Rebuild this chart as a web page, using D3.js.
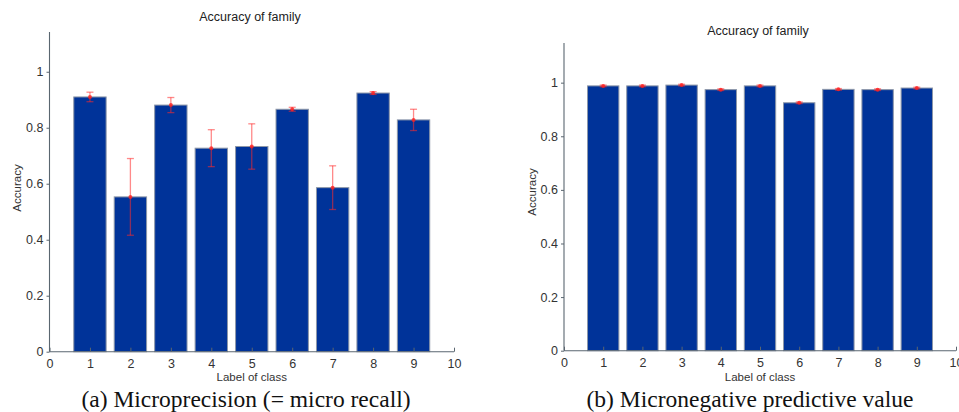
<!DOCTYPE html>
<html>
<head>
<meta charset="utf-8">
<script src="https://cdn.jsdelivr.net/npm/d3@7"></script>
<style>
  html, body { margin: 0; padding: 0; background: #fff; }
  svg { display: block; }
  .tick text { font-family: "Liberation Sans", Arial, sans-serif; fill: #333; }
</style>
</head>
<body>
<svg id="chart" width="959" height="412"></svg>
<script>
// Class labels shared by both panels
const classes = [1, 2, 3, 4, 5, 6, 7, 8, 9];
const xTicks = [0, 1, 2, 3, 4, 5, 6, 7, 8, 9, 10];
const yTicks = [0, 0.2, 0.4, 0.6, 0.8, 1];

// (a) micro precision: mean accuracy and error half-width per class
const precisionMean = [0.910, 0.553, 0.881, 0.727, 0.733, 0.866, 0.586, 0.924, 0.828];
const precisionErr  = [0.017, 0.137, 0.027, 0.066, 0.081, 0.007, 0.078, 0.005, 0.038];

// (b) micro negative predictive value
const npvMean = [0.988, 0.988, 0.991, 0.974, 0.988, 0.925, 0.975, 0.974, 0.980];
const npvErr  = [0.003, 0.003, 0.003, 0.003, 0.003, 0.003, 0.003, 0.003, 0.003];

const titleText = "Accuracy of family";
const xLabelText = "Label of class";
const yLabelText = "Accuracy";
const captions = ["(a) Microprecision (= micro recall)", "(b) Micronegative predictive value"];

const svg = d3.select("#chart");
const sans = "'Liberation Sans', Arial, sans-serif";

function panel(cfg) {
  const x = d3.scaleLinear().domain([0, 10]).range([cfg.x0, cfg.x1]);
  const y = d3.scaleLinear().domain([0, cfg.yMax]).range([cfg.y0, cfg.y1]);
  const g = svg.append("g");
  const barW = x(0.8) - x(0);

  // bars
  g.selectAll("rect.bar").data(classes).join("rect")
    .attr("class", "bar")
    .attr("x", (d) => x(d) - barW / 2)
    .attr("width", barW)
    .attr("y", (d, i) => y(cfg.mean[i]))
    .attr("height", (d, i) => y(0) - y(cfg.mean[i]))
    .attr("fill", "#003399")
    .attr("stroke", "#8d97a8")
    .attr("stroke-width", 1);

  // error bars
  const eg = g.selectAll("g.err").data(classes).join("g").attr("class", "err")
    .attr("stroke", "#ff2a2a").attr("stroke-opacity", 0.55).attr("stroke-width", 1.3);
  eg.append("line")
    .attr("x1", (d) => x(d)).attr("x2", (d) => x(d))
    .attr("y1", (d, i) => y(cfg.mean[i] + cfg.err[i]))
    .attr("y2", (d, i) => y(cfg.mean[i] - cfg.err[i]));
  [1, -1].forEach((s) => {
    eg.append("line")
      .attr("x1", (d) => x(d) - 3.5).attr("x2", (d) => x(d) + 3.5)
      .attr("y1", (d, i) => y(cfg.mean[i] + s * cfg.err[i]))
      .attr("y2", (d, i) => y(cfg.mean[i] + s * cfg.err[i]));
  });
  g.selectAll("circle.mk").data(classes).join("circle")
    .attr("class", "mk")
    .attr("cx", (d) => x(d))
    .attr("cy", (d, i) => y(cfg.mean[i]))
    .attr("r", 2)
    .attr("fill", "#ff2020").attr("fill-opacity", 0.8);

  // axes
  const xAxis = d3.axisBottom(x).tickValues(xTicks).tickFormat(d3.format("d"))
    .tickSizeInner(-4).tickSizeOuter(0).tickPadding(7);
  const gx = g.append("g").attr("transform", `translate(0,${cfg.y0})`).call(xAxis);
  const yAxis = d3.axisLeft(y).tickValues(yTicks).tickFormat((d) => (d === 0 || d === 1) ? d3.format("d")(d) : d3.format(".1f")(d))
    .tickSizeInner(3).tickSizeOuter(0).tickPadding(3);
  const gy = g.append("g").attr("transform", `translate(${cfg.x0},0)`).call(yAxis);
  [gx, gy].forEach((a) => {
    a.select(".domain").attr("stroke", "#5a6670").attr("stroke-width", 1.1);
    a.selectAll(".tick line").attr("stroke", "#5a6670");
    a.selectAll(".tick text").attr("font-size", 12.5).attr("fill", "#333");
  });
  // extend the y axis line to the top of the value range
  gy.select(".domain").attr("d", `M0,${y(0)}V${y(cfg.yMax)}`);
  gx.select(".domain").attr("d", `M${x(0)},0H${x(10)}`);

  // texts
  g.append("text").attr("x", cfg.titleX).attr("y", cfg.titleY)
    .attr("text-anchor", "middle").attr("dominant-baseline", "central")
    .attr("font-family", sans).attr("font-size", 12.5).attr("fill", "#222")
    .text(titleText);
  g.append("text").attr("x", (cfg.x0 + cfg.x1) / 2).attr("y", cfg.xLabelY)
    .attr("text-anchor", "middle").attr("dominant-baseline", "central")
    .attr("font-family", sans).attr("font-size", 11.5).attr("fill", "#333")
    .text(xLabelText);
  g.append("text")
    .attr("transform", `translate(${cfg.yLabelX},${cfg.yLabelY}) rotate(-90)`)
    .attr("text-anchor", "middle").attr("dominant-baseline", "central")
    .attr("font-family", sans).attr("font-size", 11.5).attr("fill", "#333")
    .text(yLabelText);
  g.append("text").attr("x", cfg.capX).attr("y", 399)
    .attr("text-anchor", "middle").attr("dominant-baseline", "central")
    .attr("font-family", "'Liberation Serif', 'Times New Roman', serif").attr("font-size", 23.5).attr("fill", "#111")
    .text(cfg.caption);
}

panel({
  x0: 49.5, x1: 454, y0: 351.7, y1: 32, yMax: 1.142,
  mean: precisionMean, err: precisionErr,
  titleX: 250, titleY: 17, xLabelY: 377, yLabelX: 17, yLabelY: 188,
  capX: 246, caption: captions[0]
});
panel({
  x0: 564, x1: 956, y0: 350.7, y1: 43, yMax: 1.148,
  mean: npvMean, err: npvErr,
  titleX: 758, titleY: 31, xLabelY: 376.5, yLabelX: 532, yLabelY: 192,
  capX: 750, caption: captions[1]
});
</script>
</body>
</html>
